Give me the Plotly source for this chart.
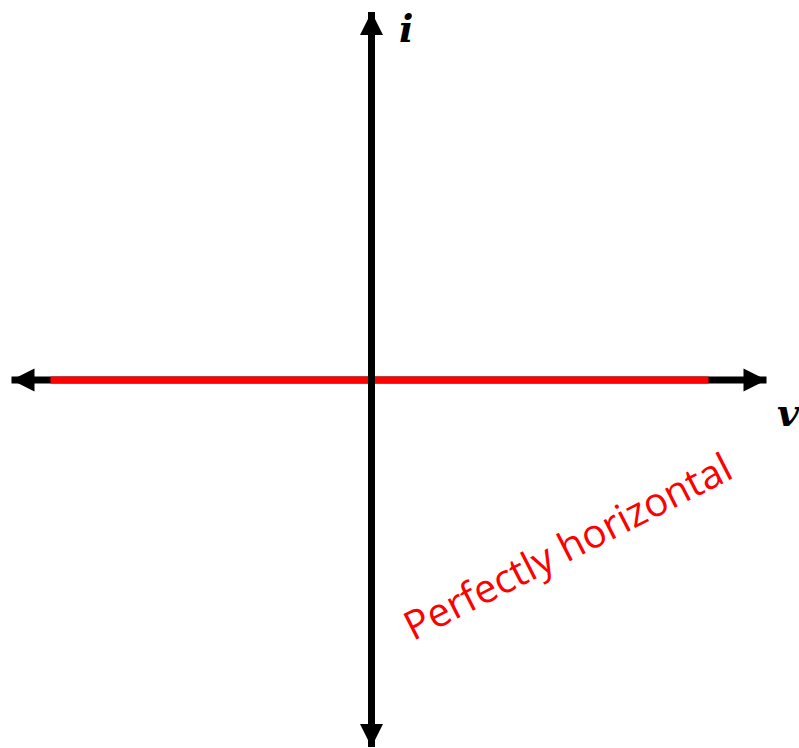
import plotly.graph_objects as go

# Conceptual i-v graph (units are arbitrary; origin at axes crossing)
v_axis = [-360, 395]          # horizontal (v) axis extent, arrow tips
i_axis = [-367, 368]          # vertical (i) axis extent, arrow tips
v_line = [-321, 337]          # red line: perfectly horizontal current
i_line = [0, 0]

fig = go.Figure()

# horizontal v axis
fig.add_trace(go.Scatter(x=v_axis, y=[0, 0], mode="lines",
                         line=dict(color="black", width=7), hoverinfo="skip"))
# red horizontal line
fig.add_trace(go.Scatter(x=v_line, y=i_line, mode="lines",
                         line=dict(color="#ff0000", width=7), hoverinfo="skip"))
# vertical i axis
fig.add_trace(go.Scatter(x=[0, 0], y=i_axis, mode="lines",
                         line=dict(color="black", width=7), hoverinfo="skip"))
# arrowheads
fig.add_trace(go.Scatter(
    x=[v_axis[0], v_axis[1], 0, 0],
    y=[0, 0, i_axis[1], i_axis[0]],
    mode="markers",
    marker=dict(symbol=["arrow-left", "arrow-right", "arrow-up", "arrow-down"],
                size=23, color="black", line=dict(width=0)),
    cliponaxis=False,
    hoverinfo="skip"))

fig.add_annotation(x=34, y=352, text="<b><i>i</i></b>", showarrow=False,
                   font=dict(family="DejaVu Serif", size=38, color="black"))
fig.add_annotation(x=417, y=-32, text="<b><i>v</i></b>", showarrow=False,
                   font=dict(family="DejaVu Serif", size=38, color="black"))
fig.add_annotation(x=195, y=-165, text="Perfectly horizontal", showarrow=False,
                   textangle=-27,
                   font=dict(family="Open Sans", size=40, color="#ff0000"))

fig.update_layout(
    width=799, height=748,
    margin=dict(l=0, r=0, t=0, b=0),
    paper_bgcolor="white", plot_bgcolor="white",
    showlegend=False,
    hovermode=False,
    xaxis=dict(range=[-371.5, 427.5], visible=False, fixedrange=True),
    yaxis=dict(range=[-368, 380], visible=False, fixedrange=True),
)

fig.write_html(
    "out.html",
    config={"displayModeBar": False, "staticPlot": True},
    post_script="document.body.style.margin='0';document.body.style.overflow='hidden';",
)
